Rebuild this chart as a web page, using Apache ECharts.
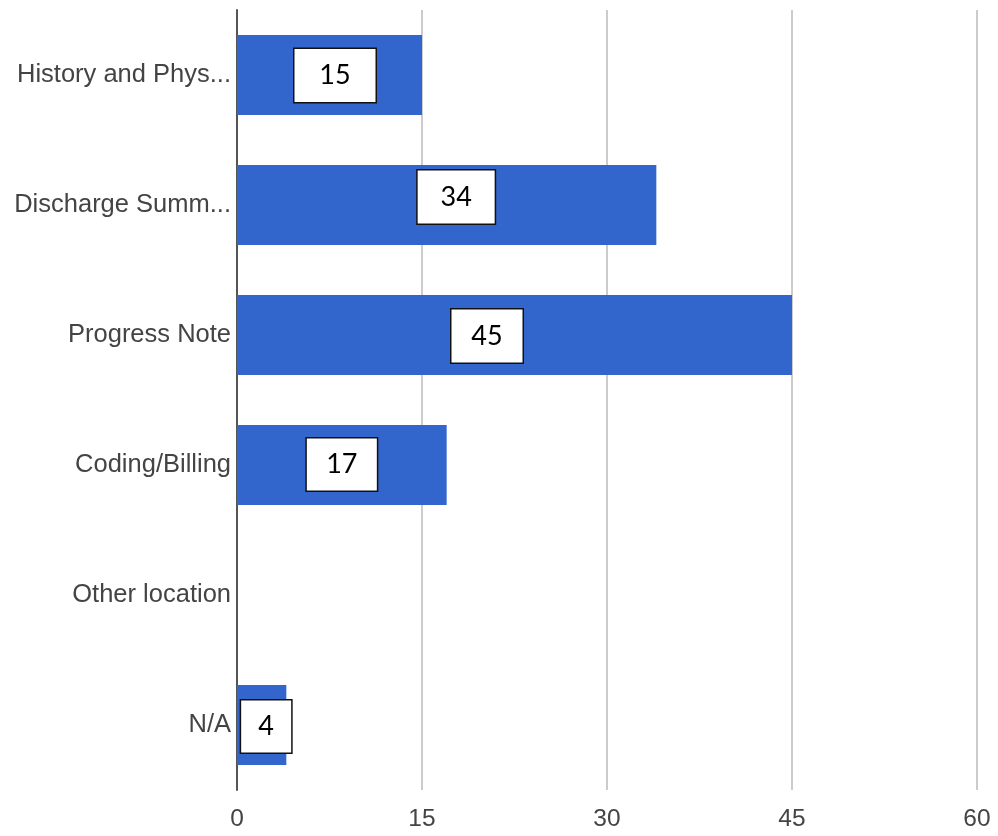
<!DOCTYPE html>
<html>
<head>
<meta charset="utf-8">
<script src="https://cdn.jsdelivr.net/npm/echarts@6/dist/echarts.min.js"></script>
<style>
html,body{margin:0;padding:0;background:#fff;}
#chart{width:998px;height:836px;}
</style>
</head>
<body>
<div id="chart"></div>
<script>
const categories = ['History and Phys...', 'Discharge Summ...', 'Progress Note', 'Coding/Billing', 'Other location', 'N/A'];
const values = [15, 34, 45, 17, 0, 4];
const xTicks = [0, 15, 30, 45, 60];

// annotation box layout (style only): offset from bar centre and box size
const boxOffsets = [[5.5, 0.5], [9.5, -8], [-27.5, 1], [0, -0.5], [0, 0], [4.5, 1.5]];
const boxSizes = [[81, 53], [77, 53], [71, 53], [70, 52], [0, 0], [50, 52]];

const chart = echarts.init(document.getElementById('chart'), null, {renderer: 'canvas'});

const seriesData = values.map((v, i) => ({
  value: v,
  label: {
    show: v > 0,
    offset: boxOffsets[i],
    width: boxSizes[i][0],
    height: boxSizes[i][1],
    lineHeight: boxSizes[i][1] + 2
  }
}));

chart.setOption({
  animation: false,
  backgroundColor: '#fff',
  grid: {left: 237, right: 21, top: 10, bottom: 46, containLabel: false},
  xAxis: {
    type: 'value',
    min: xTicks[0],
    max: xTicks[xTicks.length - 1],
    interval: 15,
    axisLine: {show: false},
    axisTick: {show: false},
    splitLine: {show: true, lineStyle: {color: '#cccccc', width: 2}},
    axisLabel: {
      margin: 17,
      fontFamily: 'Liberation Sans, Arial, sans-serif',
      fontSize: 24.5,
      color: '#444444'
    }
  },
  yAxis: {
    type: 'category',
    data: categories,
    inverse: true,
    axisTick: {show: false},
    axisLine: {show: true, lineStyle: {color: '#555555', width: 2}},
    splitLine: {show: false},
    axisLabel: {
      margin: 6,
      fontFamily: 'Liberation Sans, Arial, sans-serif',
      fontSize: 25.5,
      color: '#444444',
      lineHeight: 30,
      padding: [4, 0, 0, 0]
    }
  },
  series: [{
    type: 'bar',
    data: seriesData,
    barWidth: 80,
    itemStyle: {color: '#3366cc'},
    z: 1,
    label: {
      show: true,
      position: 'inside',
      formatter: '{c}',
      fontFamily: 'Lato, Carlito, Calibri, sans-serif',
      fontSize: 27,
      color: '#000000',
      backgroundColor: '#ffffff',
      borderColor: '#111111',
      borderWidth: 1.5,
      padding: 0,
      align: 'center',
      verticalAlign: 'middle'
    }
  }]
});
</script>
</body>
</html>
